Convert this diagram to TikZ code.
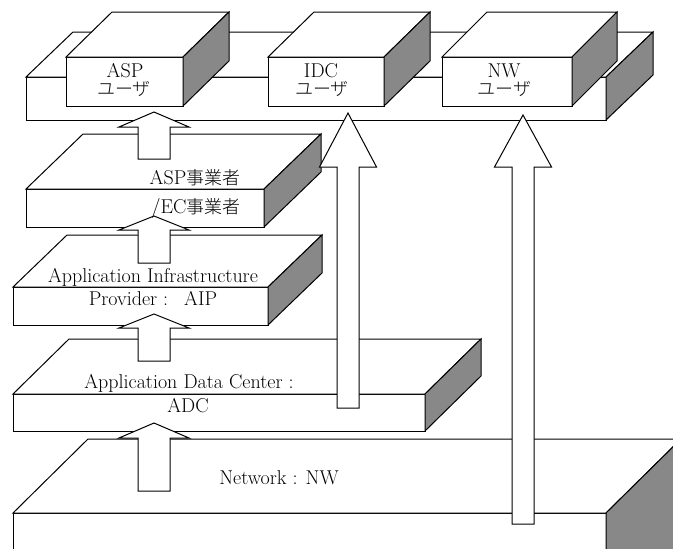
\documentclass[tikz,border=0pt]{standalone}
\usepackage{fontspec}
\IfFontExistsTF{Noto Sans CJK JP Light}
  {\newfontfamily\jpfont{Noto Sans CJK JP Light}[Scale=0.9]}
  {\newfontfamily\jpfont{Noto Sans CJK JP}[Scale=0.9]}
\definecolor{sidegray}{RGB}{136,136,136}
\tikzset{
  face/.style={draw=black, fill=white, line width=1pt, line join=miter},
  sideface/.style={draw=black, fill=sidegray, line width=1pt, line join=miter},
  barrow/.style={draw=black, fill=white, line width=1pt, line join=miter},
  lbl/.style={inner sep=0pt, anchor=base, font=\fontsize{20}{23}\selectfont},
}
% slab: x1,y1 (front top-left), x2,y2 (front bottom-right), dx, dy (depth)
\newcommand\drawslab[6]{%
  \draw[face] (#1,#2) rectangle (#3,#4);
  \draw[face] (#1,#2) -- (#1+#5,#2-#6) -- (#3+#5,#2-#6) -- (#3,#2) -- cycle;
  \draw[sideface] (#3,#2) -- (#3+#5,#2-#6) -- (#3+#5,#4-#6) -- (#3,#4) -- cycle;
}
% block arrow: cx, tip y, head base y, bottom y, head half width, shaft half width
\newcommand\blockarrow[6]{%
  \draw[barrow] (#1,#2) -- (#1+#5,#3) -- (#1+#6,#3) -- (#1+#6,#4)
    -- (#1-#6,#4) -- (#1-#6,#3) -- (#1-#5,#3) -- cycle;
}
\begin{document}
\begin{tikzpicture}[x=1pt,y=-1pt]
\useasboundingbox (0,0) rectangle (673,549);
\clip (0,0) rectangle (673,549);
% layers, bottom to top
\drawslab{13}{513}{606}{620}{75}{74}
\drawslab{13}{394}{425}{431}{56}{55}
\drawslab{13}{287}{268}{325}{54}{52}
\drawslab{26}{189}{264}{227}{57}{55}
% user platform
\drawslab{26}{77}{606}{120}{47}{45}
% user boxes
\drawslab{66}{57}{183}{106}{46}{45}
\drawslab{268}{57}{384}{106}{46}{45}
\drawslab{442}{57}{572}{106}{45}{45}
% arrows
\blockarrow{154}{112}{127}{159}{35}{16}
\blockarrow{154}{216}{230}{263}{35}{16}
\blockarrow{154}{314}{328}{361}{35}{16}
\blockarrow{154}{423}{438}{491}{35}{16}
\blockarrow{348}{113}{167}{408}{28.5}{11}
\blockarrow{523}{115}{167}{524}{28.5}{11}
% labels
\node[lbl] (aspu1) at (125,77) {ASP};
\node[lbl] (aspu2) at (124,95.5) {\jpfont ユーザ};
\node[lbl] (idcu1) at (321,77) {IDC};
\node[lbl] (idcu2) at (322,95.5) {\jpfont ユーザ};
\node[lbl] (nwu1) at (504,77) {NW};
\node[lbl] (nwu2) at (504.5,95.5) {\jpfont ユーザ};
\node[lbl] (asp1) at (195,184) {ASP{\jpfont 事業者}};
\node[lbl] (asp2) at (196,213) {/EC{\jpfont 事業者}};
\node[lbl] (aip1) at (153,282) {Application Infrastructure};
\node[lbl] (aip2) at (153,305) {Provider :\hspace{0.8em}AIP};
\node[lbl] (adc1) at (189,388) {Application Data Center :};
\node[lbl] (adc2) at (188,412) {ADC};
\node[lbl] (nw1) at (279,484) {Network : NW};
\end{tikzpicture}
\end{document}
